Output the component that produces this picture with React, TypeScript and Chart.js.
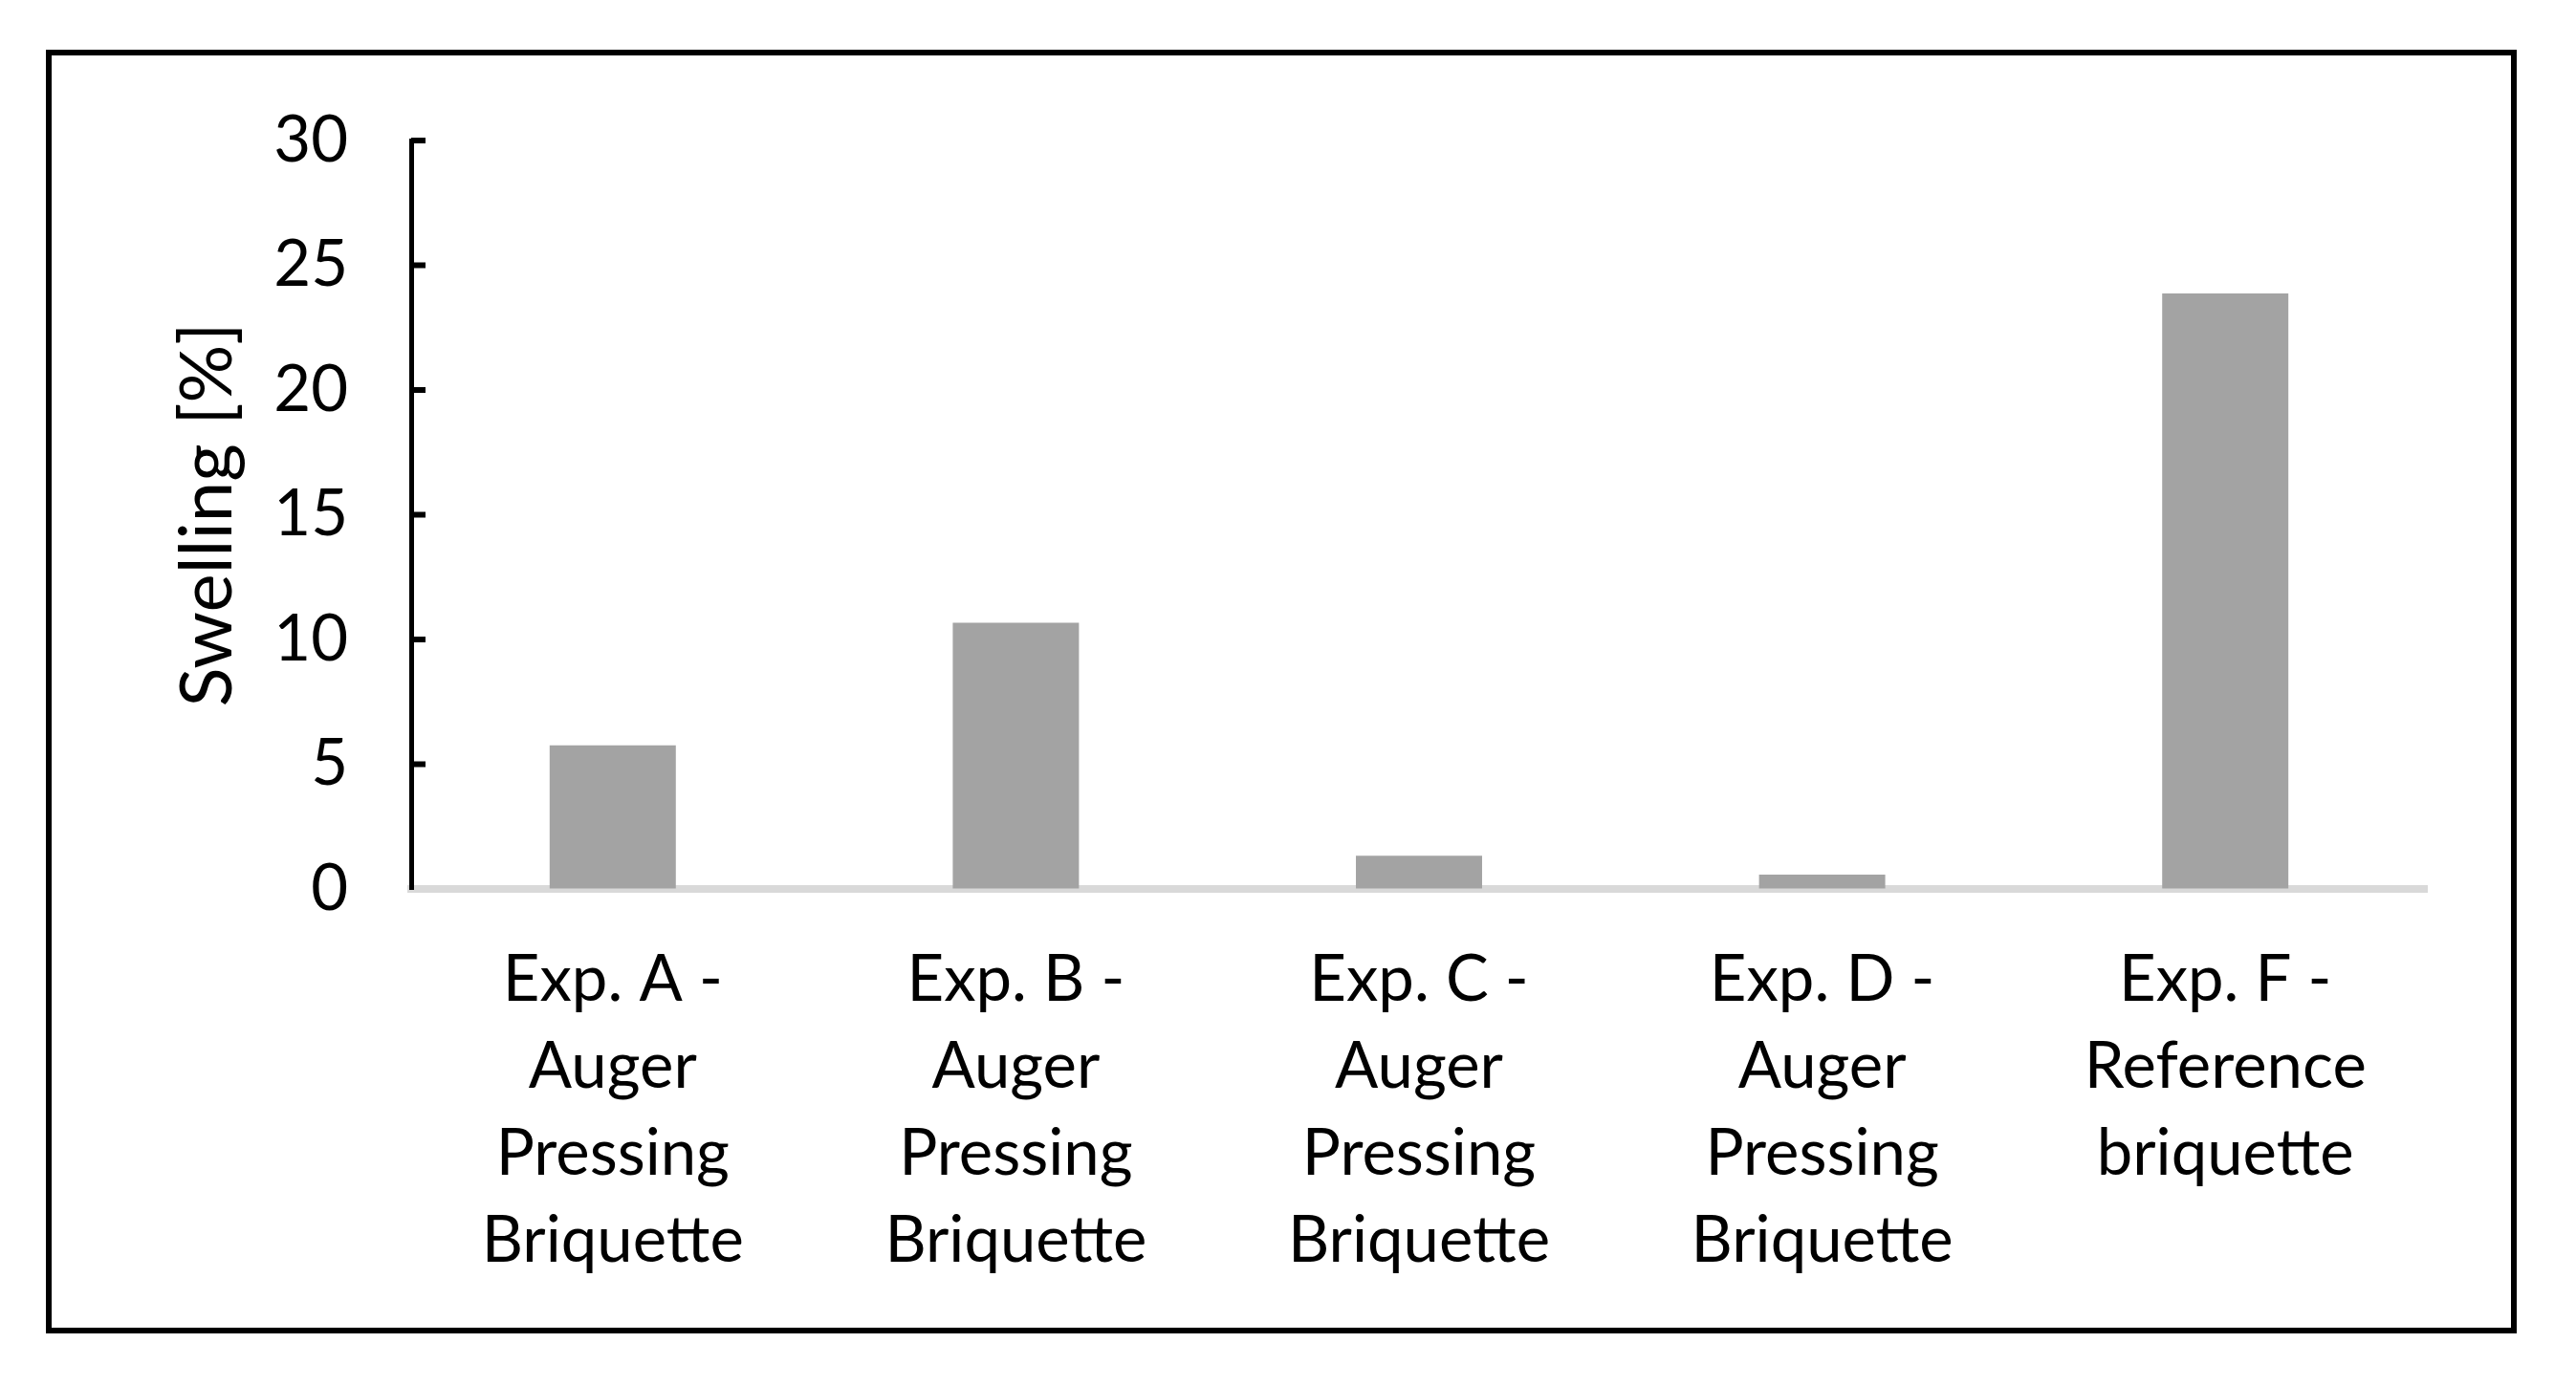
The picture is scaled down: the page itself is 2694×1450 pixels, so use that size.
import React, { useEffect, useRef } from "react";
import { Chart, registerables } from "chart.js";

Chart.register(...registerables);

const categories: string[][] = [
  ["Exp. A -", "Auger", "Pressing", "Briquette"],
  ["Exp. B -", "Auger", "Pressing", "Briquette"],
  ["Exp. C -", "Auger", "Pressing", "Briquette"],
  ["Exp. D -", "Auger", "Pressing", "Briquette"],
  ["Exp. F -", "Reference", "briquette"],
];
const swellingValues: number[] = [5.76, 10.67, 1.33, 0.57, 23.87];
const yAxisTitle = "Swelling [%]";
const yMin = 0;
const yMax = 30;
const yStep = 5;

const FONT = "Lato, 'Open Sans', sans-serif";

const framePlugin = {
  id: "frameAndInsideTicks",
  beforeDraw(chart: any) {
    const ctx = chart.ctx;
    ctx.save();
    ctx.fillStyle = "#ffffff";
    ctx.fillRect(0, 0, chart.width, chart.height);
    ctx.restore();
  },
  afterDraw(chart: any) {
    const ctx = chart.ctx;
    ctx.save();
    ctx.strokeStyle = "#000000";
    ctx.lineWidth = 6;
    ctx.strokeRect(51, 55, 2578, 1337);
    const ys = chart.scales.y;
    const xLeft = chart.chartArea.left;
    ctx.lineWidth = 6;
    ctx.beginPath();
    ys.ticks.forEach((t: any) => {
      if (t.value === 0) return;
      const py = ys.getPixelForValue(t.value);
      ctx.moveTo(xLeft, py);
      ctx.lineTo(xLeft + 15, py);
    });
    ctx.stroke();
    ctx.restore();
  },
};

export default function App() {
  const ref = useRef<HTMLCanvasElement | null>(null);

  useEffect(() => {
    if (!ref.current) return;
    const chart = new Chart(ref.current, {
      type: "bar",
      data: {
        labels: categories,
        datasets: [
          {
            label: "Swelling",
            data: swellingValues,
            backgroundColor: "#a3a3a3",
            borderWidth: 0,
            barPercentage: 0.313,
            categoryPercentage: 1,
          },
        ],
      },
      plugins: [framePlugin],
      options: {
        animation: false,
        responsive: false,
        devicePixelRatio: 1,
        layout: { padding: { left: 0, top: 147, right: 156, bottom: 0 } },
        plugins: {
          legend: { display: false },
          tooltip: { enabled: false },
          title: { display: false },
        },
        scales: {
          x: {
            z: 1,
            grid: { display: true, drawOnChartArea: false, drawTicks: false },
            border: { display: true, color: "#d9d9d9", width: 8 },
            ticks: {
              autoSkip: false,
              maxRotation: 0,
              minRotation: 0,
              padding: 50,
              color: "#000000",
              font: { family: FONT, size: 67, lineHeight: 1.358 },
            },
            afterFit: (scale: any) => {
              scale.height = 520;
            },
          },
          y: {
            min: yMin,
            max: yMax,
            grid: { display: true, drawOnChartArea: false, drawTicks: false },
            border: { display: true, color: "#000000", width: 5 },
            ticks: {
              stepSize: yStep,
              padding: 66,
              color: "#000000",
              font: { family: FONT, size: 67 },
            },
            title: {
              display: true,
              text: yAxisTitle,
              color: "#000000",
              font: { family: FONT, size: 76, lineHeight: 1.2 },
              padding: { top: 172, bottom: 0 },
            },
            afterFit: (scale: any) => {
              scale.width = 430;
            },
          },
        },
      },
    });
    return () => chart.destroy();
  }, []);

  return (
    <div style={{ position: "absolute", left: 0, top: 0, width: 2694, height: 1450, background: "#fff" }}>
      <canvas ref={ref} width={2694} height={1450} />
    </div>
  );
}
